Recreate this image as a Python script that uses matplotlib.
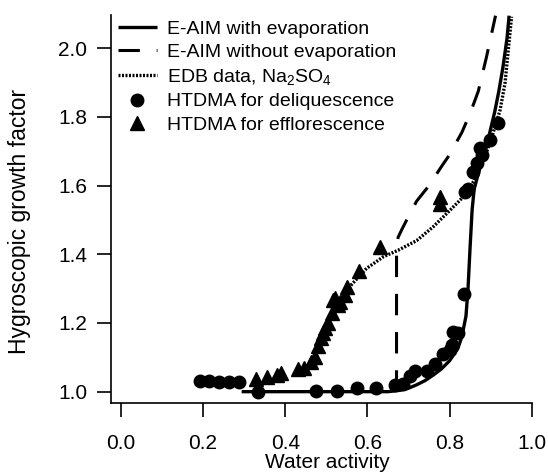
import matplotlib
matplotlib.use("Agg")
import matplotlib.pyplot as plt

plt.rcParams['font.family'] = ['Liberation Sans', 'DejaVu Sans']
plt.rcParams['mathtext.default'] = 'regular'

# E-AIM with evaporation (solid)
solid_x = [0.294, 0.60, 0.65, 0.68, 0.70, 0.72, 0.74, 0.76, 0.78, 0.80, 0.82, 0.83, 0.84, 0.845,
           0.85, 0.855, 0.86, 0.87, 0.88, 0.89, 0.90, 0.91, 0.92, 0.93, 0.94, 0.945]
solid_y = [1.0, 1.0, 1.0, 1.004, 1.01, 1.02, 1.032, 1.048, 1.066, 1.09, 1.125, 1.16, 1.22, 1.30,
           1.42, 1.53, 1.59, 1.635, 1.675, 1.715, 1.765, 1.815, 1.875, 1.945, 2.03, 2.095]

# E-AIM without evaporation (dashed)
dash_x = [0.671, 0.671, 0.675, 0.685, 0.70, 0.72, 0.75, 0.78, 0.80, 0.83, 0.85, 0.87, 0.89, 0.90, 0.912]
dash_y = [1.0, 1.42, 1.45, 1.475, 1.51, 1.555, 1.60, 1.655, 1.69, 1.755, 1.81, 1.875, 1.975, 2.03, 2.095]

# EDB data (dotted)
edb_x = [0.545, 0.557, 0.598, 0.639, 0.675, 0.72, 0.76, 0.80, 0.834, 0.86, 0.885, 0.905, 0.923,
         0.935, 0.943, 0.951]
edb_y = [1.285, 1.306, 1.359, 1.393, 1.412, 1.44, 1.48, 1.527, 1.568, 1.615, 1.68, 1.75, 1.82,
         1.898, 1.995, 2.092]

# HTDMA deliquescence (circles)
deli_x = [0.192, 0.215, 0.239, 0.264, 0.288, 0.334, 0.476, 0.525, 0.574, 0.621, 0.667, 0.687,
          0.704, 0.716, 0.744, 0.765, 0.785, 0.80, 0.805, 0.809, 0.82, 0.834, 0.838, 0.845,
          0.858, 0.866, 0.874, 0.878, 0.898, 0.919]
deli_y = [1.032, 1.03, 1.028, 1.028, 1.028, 0.998, 1.003, 1.003, 1.01, 1.012, 1.02, 1.022,
          1.045, 1.06, 1.06, 1.082, 1.11, 1.12, 1.136, 1.175, 1.17, 1.284, 1.582, 1.59,
          1.64, 1.665, 1.71, 1.688, 1.733, 1.783]

# HTDMA efflorescence (triangles)
effl_x = [0.33, 0.355, 0.379, 0.391, 0.43, 0.446, 0.462, 0.472, 0.48, 0.487, 0.493, 0.497, 0.505,
          0.513, 0.517, 0.521, 0.529, 0.533, 0.545, 0.55, 0.58, 0.63, 0.777, 0.777]
effl_y = [1.036, 1.044, 1.048, 1.054, 1.066, 1.07, 1.087, 1.102, 1.133, 1.155, 1.172, 1.185, 1.2,
          1.228, 1.267, 1.272, 1.252, 1.262, 1.281, 1.306, 1.352, 1.422, 1.548, 1.568]

x_ticks = [0.0, 0.2, 0.4, 0.6, 0.8, 1.0]
y_ticks = [1.0, 1.2, 1.4, 1.6, 1.8, 2.0]

fig = plt.figure(figsize=(5.48, 4.76), dpi=100)
ax = fig.add_axes([111/548, 1-403/476, (531.7-111)/548, (403-15)/476])

l1, = ax.plot(solid_x, solid_y, color='black', lw=2.4, solid_capstyle='butt',
              label='E-AIM with evaporation')
l2, = ax.plot(dash_x, dash_y, color='black', lw=2.2, dashes=(7, 5.5),
              label='E-AIM without evaporation')
l3, = ax.plot(edb_x, edb_y, color='black', lw=2.4, dashes=(0.6, 0.45),
              label='EDB data, Na$_2$SO$_4$')
l4, = ax.plot(deli_x, deli_y, 'o', color='black', ms=9, ls='none',
              label='HTDMA for deliquescence', zorder=3)
l5, = ax.plot(effl_x, effl_y, '^', color='black', ms=9.5, ls='none',
              label='HTDMA for efflorescence', zorder=3)

ax.set_xlim(-0.024, 1.0)
ax.set_ylim(0.967, 2.097)
ax.set_xticks(x_ticks)
ax.set_yticks(y_ticks)
ax.set_xticklabels([f"{v:.1f}" for v in x_ticks])
ax.set_yticklabels([f"{v:.1f}" for v in y_ticks])
for s in ['top', 'right']:
    ax.spines[s].set_visible(False)
for s in ['left', 'bottom']:
    ax.spines[s].set_linewidth(1.2)
ax.tick_params(direction='out', length=10, width=1.2, labelsize=15, pad=7)
ax.tick_params(axis='x', pad=12)
ax.set_xlabel('Water activity', fontsize=15, va='center')
ax.xaxis.set_label_coords((327-111)/420.7, (403-462.5)/388)
ax.set_ylabel('Hygroscopic growth factor', fontsize=16.5, va='center')
ax.yaxis.set_label_coords((20-111)/420.7, (403-221)/388)

fig.legend(handles=[l1, l2, l3, l4, l5], loc='upper left',
           bbox_to_anchor=(118/548, 1-20/476), frameon=False, fontsize=14,
           borderpad=0, borderaxespad=0, handlelength=2.0, handletextpad=0.5,
           labelspacing=0.3, numpoints=1)

fig.savefig('out.png', dpi=100)
